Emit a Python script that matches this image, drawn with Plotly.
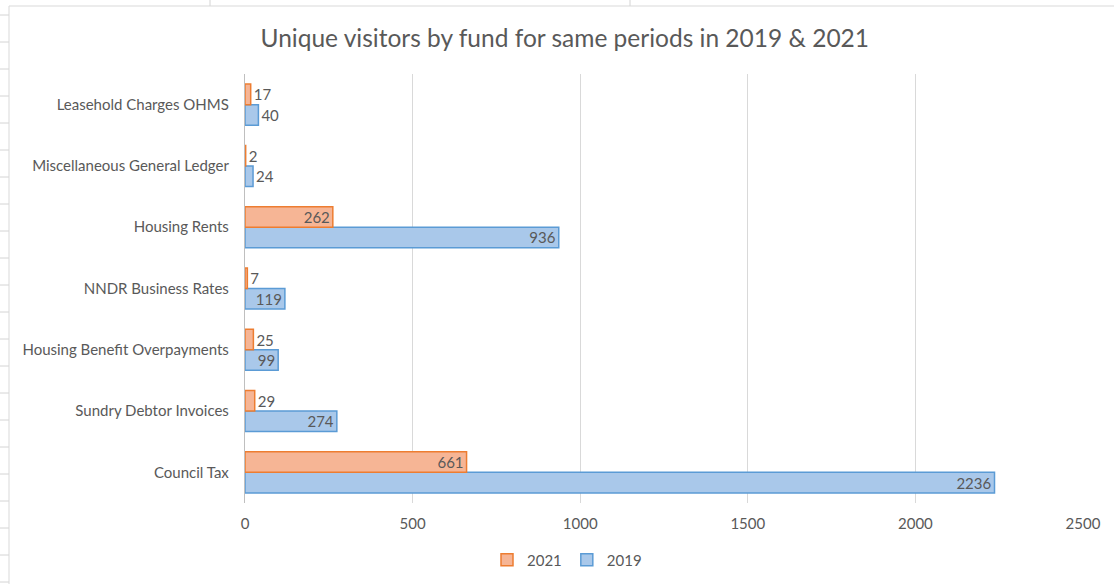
import plotly.graph_objects as go

categories = ["Council Tax", "Sundry Debtor Invoices", "Housing Benefit Overpayments",
              "NNDR Business Rates", "Housing Rents", "Miscellaneous General Ledger",
              "Leasehold Charges OHMS"]
v2019 = [2236, 274, 99, 119, 936, 24, 40]
v2021 = [661, 29, 25, 7, 262, 2, 17]
x_ticks = [0, 500, 1000, 1500, 2000, 2500]

FONT = "Lato"
GRAY = "#595959"
LBL = 15


def positions(vals):
    return ["inside" if v >= 90 else "outside" for v in vals]


fig = go.Figure()
fig.add_trace(go.Bar(
    y=categories, x=v2019, name="2019", orientation="h",
    marker=dict(color="#A9C8EA", line=dict(color="#5B9BD5", width=1.5)),
    text=v2019, textposition=positions(v2019), textangle=0,
    insidetextanchor="end", cliponaxis=False,
    insidetextfont=dict(color=GRAY, size=LBL, family=FONT),
    outsidetextfont=dict(color=GRAY, size=LBL, family=FONT),
    legendrank=2,
))
fig.add_trace(go.Bar(
    y=categories, x=v2021, name="2021", orientation="h",
    marker=dict(color="#F6B595", line=dict(color="#ED7D31", width=1.5)),
    text=v2021, textposition=positions(v2021), textangle=0,
    insidetextanchor="end", cliponaxis=False,
    insidetextfont=dict(color=GRAY, size=LBL, family=FONT),
    outsidetextfont=dict(color=GRAY, size=LBL, family=FONT),
    legendrank=1,
))

# spreadsheet grid around the chart
shapes = []
for yy in range(15, 584, 27):
    shapes.append(dict(type="line", xref="paper", yref="paper",
                       x0=-245/838, x1=-236/838, y0=(503 - yy)/429, y1=(503 - yy)/429,
                       line=dict(color="#D4D4D4", width=1), layer="below"))
for xx in [210, 630]:
    shapes.append(dict(type="line", xref="paper", yref="paper",
                       x0=(xx - 245)/838, x1=(xx - 245)/838, y0=(503 - 0)/429, y1=(503 - 6)/429,
                       line=dict(color="#D4D4D4", width=1), layer="below"))
shapes.append(dict(type="rect", xref="paper", yref="paper",
                   x0=(9 - 245)/838, x1=(1118 - 245)/838, y0=(503 - 600)/429, y1=(503 - 6)/429,
                   line=dict(color="#D9D9D9", width=1), fillcolor="rgba(0,0,0,0)", layer="below"))

fig.update_layout(
    width=1114, height=584,
    margin=dict(l=245, r=31, t=74, b=81),
    paper_bgcolor="white", plot_bgcolor="white",
    barmode="group", bargap=0.33, bargroupgap=0.0,
    font=dict(family=FONT, color=GRAY, size=15),
    uniformtext=dict(minsize=LBL, mode="show"),
    title=dict(text="Unique visitors by fund for same periods in 2019 & 2021",
               x=0.507, xanchor="center", y=1 - 38/584, yanchor="middle",
               font=dict(size=24.5, color=GRAY, family=FONT)),
    xaxis=dict(range=[0, 2500], tickvals=x_ticks, showgrid=True, gridcolor="#D9D9D9",
               gridwidth=1.3, zeroline=False, showline=False, automargin=False,
               tickfont=dict(size=15, color=GRAY), ticks="", ticklabelstandoff=10),
    yaxis=dict(showline=True, linecolor="#BFBFBF", linewidth=1.3, automargin=False,
               tickfont=dict(size=15, color=GRAY), ticks="", ticklabelstandoff=12),
    legend=dict(orientation="h", x=(567 - 245)/838, xanchor="center",
                yref="container", y=(584 - 560)/584, yanchor="middle",
                font=dict(size=15, color=GRAY),
                itemwidth=30, traceorder="normal"),
    shapes=shapes,
)

fig.write_html("out.html")
